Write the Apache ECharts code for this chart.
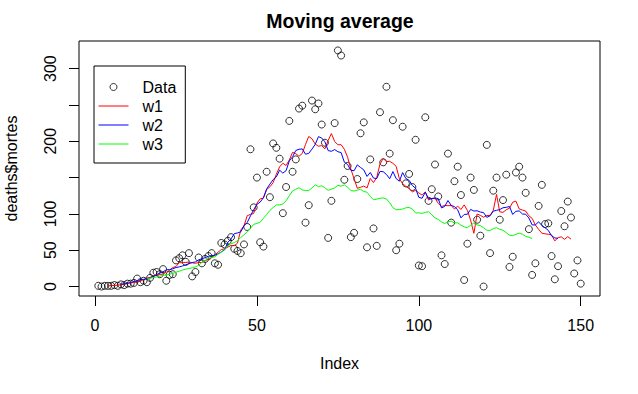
<!DOCTYPE html>
<html>
<head>
<meta charset="utf-8">
<script src="https://cdn.jsdelivr.net/npm/echarts@6/dist/echarts.min.js"></script>
<style>
  html, body { margin: 0; padding: 0; background: #fff; }
  #chart { width: 638px; height: 394px; }
</style>
</head>
<body>
<div id="chart"></div>
<script>
// deaths$mortes (index 1..150)
const mortes = [
  1, 0, 1, 1, 1, 2, 1, 3, 2, 4,
  4, 5, 11, 6, 8, 6, 12, 19, 20, 17,
  24, 8, 16, 17, 36, 39, 43, 34, 46, 14,
  20, 40, 32, 38, 42, 46, 32, 30, 60, 58,
  63, 68, 52, 49, 46, 58, 82, 189, 109, 150,
  61, 55, 158, 123, 197, 191, 176, 101, 137, 228,
  158, 175, 245, 249, 88, 112, 256, 244, 252, 223,
  198, 67, 118, 225, 325, 318, 147, 166, 68, 74,
  148, 211, 226, 54, 175, 80, 56, 240, 171, 275,
  183, 229, 50, 59, 220, 142, 155, 137, 202, 29,
  28, 233, 118, 134, 168, 124, 43, 31, 183, 88,
  145, 165, 126, 9, 59, 150, 133, 92, 70, 0,
  195, 46, 132, 150, 92, 119, 154, 27, 41, 157,
  165, 150, 129, 79, 16, 32, 111, 140, 86, 87,
  42, 10, 28, 104, 83, 117, 95, 18, 36, 4
];

// filter weights (legend names)
const w1 = new Array(7).fill(1 / 7);
const w2 = new Array(15).fill(1 / 15);
const w3 = new Array(31).fill(1 / 40);

const xTicks = [0, 50, 100, 150];
const yTicks = [0, 50, 100, 150, 200, 250, 300];
const yLabels = [0, 50, 100, 200, 300];

// centered linear filter (like stats::filter, sides = 2)
function centeredFilter(x, w) {
  const k = (w.length - 1) / 2;
  const out = [];
  for (let i = k; i < x.length - k; i++) {
    let s = 0;
    for (let j = -k; j <= k; j++) s += w[j + k] * x[i + j];
    out.push([i + 1, s]);
  }
  return out;
}

const FONT = "'Liberation Sans', Arial, Helvetica, sans-serif";
const n = mortes.length;
const yMaxData = Math.max.apply(null, mortes), yMinData = Math.min.apply(null, mortes);
const yPad = (yMaxData - yMinData) * 0.04;
const xPad = (n - 1) * 0.04;

function lineLegend(name, color) {
  return { name: name, icon: 'line', itemStyle: { color: color, borderColor: color, borderWidth: 1 } };
}

const chart = echarts.init(document.getElementById('chart'), null, { renderer: 'svg' });
chart.setOption({
  animation: false,
  backgroundColor: '#fff',
  title: {
    text: 'Moving average',
    left: 335,
    top: 6,
    textAlign: 'center',
    textStyle: { fontFamily: FONT, fontSize: 19.5, fontWeight: 'bold', color: '#000' }
  },
  legend: {
    orient: 'vertical',
    left: 94,
    top: 66,
    padding: [11.5, 9, 9.5, 4],
    itemGap: 0,
    itemWidth: 30,
    itemHeight: 7,
    borderColor: '#000',
    borderWidth: 1,
    selectedMode: false,
    textStyle: { fontFamily: FONT, fontSize: 16, color: '#000', lineHeight: 19, padding: [0, 0, 0, 9] },
    data: [
      { name: 'Data', icon: 'circle', itemStyle: { color: 'rgba(0,0,0,0)', borderColor: '#000', borderWidth: 1 } },
      lineLegend('w1', '#ff0000'),
      lineLegend('w2', '#0000ff'),
      lineLegend('w3', '#00ff00')
    ]
  },
  grid: {
    left: 79, right: 38, top: 41, bottom: 98,
    containLabel: false,
    outerBoundsMode: 'none',
    show: true, borderColor: '#000', borderWidth: 1, backgroundColor: 'transparent'
  },
  xAxis: {
    type: 'value',
    min: 1 - xPad,
    max: n + xPad,
    name: 'Index',
    nameLocation: 'middle',
    nameGap: 59,
    nameTextStyle: { fontFamily: FONT, fontSize: 16, color: '#000' },
    axisLine: { show: false, onZero: false },
    axisTick: { show: true, inside: false, length: 10, customValues: xTicks, lineStyle: { color: '#000', width: 1 } },
    axisLabel: { customValues: xTicks, fontFamily: FONT, fontSize: 16, color: '#000', margin: 21 },
    splitLine: { show: false }
  },
  yAxis: {
    type: 'value',
    min: yMinData - yPad,
    max: yMaxData + yPad,
    name: 'deaths$mortes',
    nameLocation: 'middle',
    nameRotate: 90,
    nameGap: 60,
    nameTextStyle: { fontFamily: FONT, fontSize: 16, color: '#000' },
    axisLine: { show: false, onZero: false },
    axisTick: { show: true, inside: false, length: 10, customValues: yTicks, lineStyle: { color: '#000', width: 1 } },
    axisLabel: { customValues: yLabels, rotate: 90, fontFamily: FONT, fontSize: 16, color: '#000', margin: 21 },
    splitLine: { show: false }
  },
  series: [
    {
      name: 'Data',
      type: 'scatter',
      symbol: 'circle',
      symbolSize: 7,
      itemStyle: { color: 'rgba(0,0,0,0)', borderColor: '#000', borderWidth: 1 },
      emphasis: { disabled: true },
      data: mortes.map((v, i) => [i + 1, v])
    },
    {
      name: 'w1', type: 'line', symbol: 'none', showSymbol: false,
      lineStyle: { color: '#ff0000', width: 1 }, itemStyle: { color: '#ff0000' },
      emphasis: { disabled: true },
      data: centeredFilter(mortes, w1)
    },
    {
      name: 'w2', type: 'line', symbol: 'none', showSymbol: false,
      lineStyle: { color: '#0000ff', width: 1 }, itemStyle: { color: '#0000ff' },
      emphasis: { disabled: true },
      data: centeredFilter(mortes, w2)
    },
    {
      name: 'w3', type: 'line', symbol: 'none', showSymbol: false,
      lineStyle: { color: '#00ff00', width: 1 }, itemStyle: { color: '#00ff00' },
      emphasis: { disabled: true },
      data: centeredFilter(mortes, w3)
    }
  ]
});
</script>
</body>
</html>
